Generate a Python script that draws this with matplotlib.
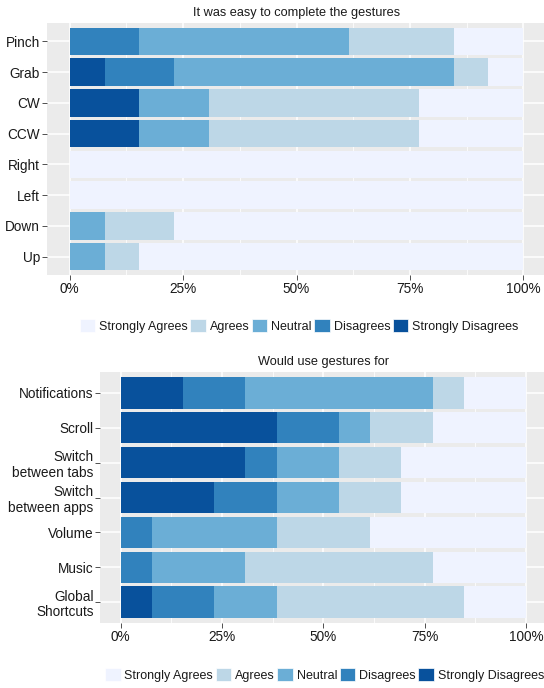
import matplotlib
matplotlib.use("Agg")
import matplotlib.pyplot as plt
from matplotlib.patches import Patch
from matplotlib.ticker import FixedLocator

plt.rcParams["font.family"] = ["Liberation Sans", "DejaVu Sans"]

N_RESP = 13

levels = ["Strongly Disagrees", "Disagrees", "Neutral", "Agrees",
          "Strongly Agrees"]
colors = ["#08519C", "#3182BD", "#6BAED6", "#BDD7E7", "#EFF3FF"]

# "It was easy to complete the gestures" (response counts)
ease_labels = ["Pinch", "Grab", "CW", "CCW", "Right", "Left", "Down", "Up"]
ease_sd = [0, 1, 2, 2, 0, 0, 0, 0]
ease_d = [2, 2, 0, 0, 0, 0, 0, 0]
ease_n = [6, 8, 2, 2, 0, 0, 1, 1]
ease_a = [3, 1, 6, 6, 0, 0, 2, 1]
ease_sa = [2, 1, 3, 3, 13, 13, 10, 11]

# "Would use gestures for" (response counts)
use_labels = ["Notifications", "Scroll", "Switch\nbetween tabs",
              "Switch\nbetween apps", "Volume", "Music",
              "Global\nShortcuts"]
use_sd = [2, 5, 4, 3, 0, 0, 1]
use_d = [2, 2, 1, 2, 1, 1, 2]
use_n = [6, 1, 2, 2, 4, 3, 2]
use_a = [1, 2, 2, 2, 3, 6, 6]
use_sa = [2, 3, 4, 4, 5, 3, 2]

x_ticks = [0, 25, 50, 75, 100]
x_ticklabels = ["0%", "25%", "50%", "75%", "100%"]

W, H = 544, 688
fig = plt.figure(figsize=(W / 100, H / 100), dpi=100)


def panel(rect, title, labels, series):
    ax = fig.add_axes(rect)
    ax.set_facecolor("#EBEBEB")
    pos = list(range(len(labels)))
    left = [0.0] * len(labels)
    for vals, col in zip(series, colors):
        pct = [v / N_RESP * 100 for v in vals]
        ax.barh(pos, pct, left=left, height=0.9, color=col, zorder=3,
                linewidth=0)
        left = [l + p for l, p in zip(left, pct)]
    ax.set_xlim(-5, 105)
    ax.set_ylim(len(labels) - 0.4, -0.6)
    ax.set_xticks(x_ticks)
    ax.set_xticklabels(x_ticklabels)
    ax.xaxis.set_minor_locator(FixedLocator([12.5, 37.5, 62.5, 87.5]))
    ax.set_yticks(pos)
    ax.set_yticklabels(labels, ha="right", linespacing=1.15)
    ax.grid(which="major", color="white", lw=1.1, zorder=1)
    ax.grid(which="minor", axis="x", color="white", lw=0.55, zorder=1)
    for s in ax.spines.values():
        s.set_visible(False)
    ax.tick_params(which="major", length=3.5, width=0.6, color="#333333",
                   labelsize=9.8, labelcolor="#1a1a1a", pad=1.5)
    ax.tick_params(which="minor", length=0)
    ax.set_title(title, fontsize=9.2, color="#1a1a1a", pad=5)
    return ax


panel([47 / W, 1 - 275 / H, 499 / W, 252 / H],
      "It was easy to complete the gestures", ease_labels,
      [ease_sd, ease_d, ease_n, ease_a, ease_sa])
panel([100.4 / W, 1 - 623 / H, 446 / W, 251 / H],
      "Would use gestures for", use_labels,
      [use_sd, use_d, use_n, use_a, use_sa])

handles = [Patch(facecolor=c, edgecolor="white", lw=0.5, label=l)
           for l, c in zip(levels, colors)][::-1]
for cx, cy in [(299 / W, 1 - 326 / H), (324.5 / W, 1 - 675 / H)]:
    fig.legend(handles=handles, loc="center", bbox_to_anchor=(cx, cy),
               ncol=5, frameon=False, fontsize=9, handlelength=1.25,
               handleheight=1.25, handletextpad=0.3, columnspacing=0.2,
               borderpad=0, labelcolor="#1a1a1a")

fig.savefig("out.png", dpi=100)
